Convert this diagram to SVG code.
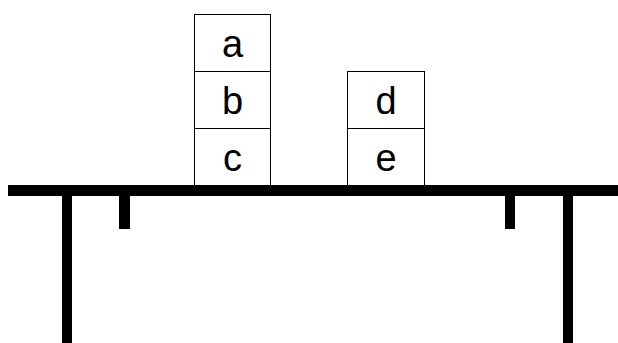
<svg xmlns="http://www.w3.org/2000/svg" width="618" height="343" viewBox="0 0 618 343">
<style>
.box{fill:#fff;stroke:#000;stroke-width:1}
.lbl{font-family:"Liberation Sans",Arial,sans-serif;font-size:38px;fill:#000;text-anchor:middle}
.blk{fill:#000}
</style>
<rect width="618" height="343" fill="#fff"/>
<g id="table">
<rect class="blk" x="8" y="185" width="610" height="11"/>
<rect class="blk" x="62" y="185" width="10" height="158"/>
<rect class="blk" x="563" y="185" width="10" height="158"/>
<rect class="blk" x="119" y="185" width="11" height="44"/>
<rect class="blk" x="505" y="185" width="10" height="44"/>
</g>
<g id="block-a"><rect class="box" x="194.5" y="14.5" width="76" height="57"/><text class="lbl" x="232.5" y="57">a</text></g>
<g id="block-b"><rect class="box" x="194.5" y="71.5" width="76" height="57"/><text class="lbl" x="232.5" y="114">b</text></g>
<g id="block-c"><rect class="box" x="194.5" y="128.5" width="76" height="57"/><text class="lbl" x="232.5" y="171">c</text></g>
<g id="block-d"><rect class="box" x="347.5" y="71.5" width="77" height="57"/><text class="lbl" x="386" y="114">d</text></g>
<g id="block-e"><rect class="box" x="347.5" y="128.5" width="77" height="57"/><text class="lbl" x="386" y="171">e</text></g>
<g id="connectors"></g>
</svg>
